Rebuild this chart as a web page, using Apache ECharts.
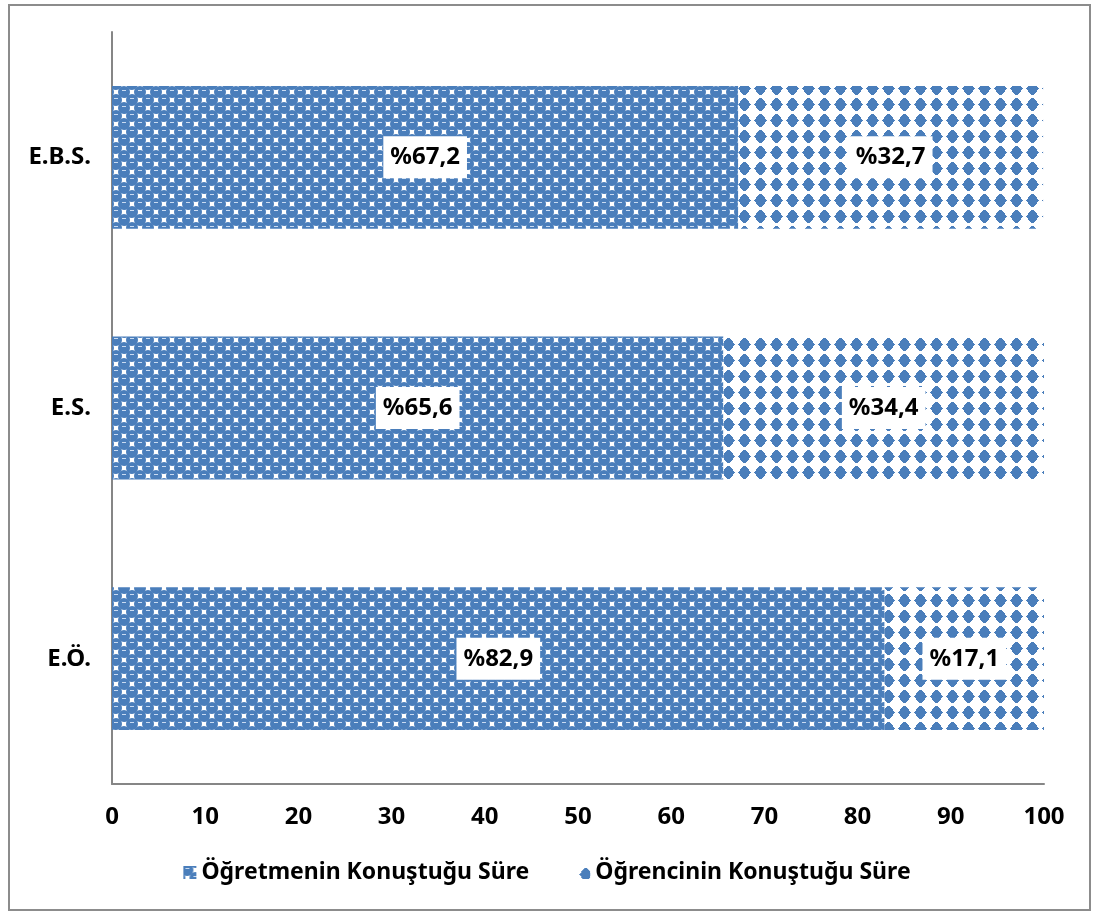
<!DOCTYPE html>
<html>
<head>
<meta charset="utf-8">
<script src="https://cdn.jsdelivr.net/npm/echarts@6/dist/echarts.min.js"></script>
<style>
html,body{margin:0;padding:0;background:#fff;}
#chart{width:1094px;height:915px;}
</style>
</head>
<body>
<div id="chart"></div>
<script>
const categories = ['E.Ö.', 'E.S.', 'E.B.S.'];
const teacherValues = [82.9, 65.6, 67.2];
const studentValues = [17.1, 34.4, 32.7];
const seriesNames = ['Öğretmenin Konuştuğu Süre', 'Öğrencinin Konuştuğu Süre'];
const xTicks = [0, 10, 20, 30, 40, 50, 60, 70, 80, 90, 100];

const BLUE = '#4A7EBB';
const FONT = '"Noto Sans", sans-serif';

function checkerPattern() {
  const c = document.createElement('canvas');
  c.width = 16; c.height = 16;
  const g = c.getContext('2d');
  g.fillStyle = '#ffffff'; g.fillRect(0, 0, 16, 16);
  g.fillStyle = BLUE;
  const centers = [[4, 4], [12, 12], [-4, 12], [12, -4], [20, 4], [4, 20], [-4, -4], [20, 20], [-4, 20], [20, -4]];
  centers.forEach(([x, y]) => { g.beginPath(); g.arc(x, y, 6.0, 0, Math.PI * 2); g.fill(); });
  g.fillStyle = 'rgba(215,230,248,0.9)';
  g.fillRect(2, 2, 4, 1);
  g.fillRect(10, 10, 4, 1);
  return c;
}
function diamondPattern() {
  const c = document.createElement('canvas');
  c.width = 16; c.height = 16;
  const g = c.getContext('2d');
  g.fillStyle = '#ffffff'; g.fillRect(0, 0, 16, 16);
  g.fillStyle = BLUE;
  const halfW = [6, 5, 4, 4, 3, 2, 1];
  for (let dy = -6; dy <= 6; dy++) {
    const w = halfW[Math.abs(dy)];
    g.fillRect(8 - w, 8 + dy, 2 * w + 1, 1);
  }
  return c;
}

const fmt = p => '%' + p.value.toFixed(1).replace('.', ',');
const labelStyle = {
  show: true, position: 'inside', formatter: fmt,
  color: '#000', fontFamily: FONT, fontWeight: 'bold', fontSize: 24,
  backgroundColor: '#ffffff', padding: [10, 7, 8, 7]
};

const chart = echarts.init(document.getElementById('chart'), null, {renderer: 'canvas'});
chart.setOption({
  animation: false,
  backgroundColor: '#ffffff',
  graphic: [{
    type: 'rect', shape: {x: 9, y: 5, width: 1081, height: 905},
    style: {fill: 'none', stroke: '#8c8c8c', lineWidth: 2}, silent: true
  }],
  grid: {left: 112, right: 50, top: 32, bottom: 131, containLabel: false},
  legend: {
    bottom: 26, left: 'center', itemWidth: 13, itemHeight: 13, itemGap: 48,
    icon: 'rect',
    textStyle: {fontFamily: FONT, fontWeight: 'bold', fontSize: 23, color: '#000'},
    data: seriesNames
  },
  xAxis: {
    type: 'value', min: xTicks[0], max: xTicks[xTicks.length - 1], interval: 10,
    axisLine: {show: true, lineStyle: {color: '#868686', width: 2}},
    axisTick: {show: false},
    splitLine: {show: false},
    axisLabel: {margin: 21, color: '#000', fontFamily: FONT, fontWeight: 'bold', fontSize: 24}
  },
  yAxis: {
    type: 'category', data: categories,
    axisLine: {show: true, lineStyle: {color: '#868686', width: 2}},
    axisTick: {show: false},
    axisLabel: {margin: 21, color: '#000', fontFamily: FONT, fontWeight: 'bold', fontSize: 24}
  },
  series: [
    {
      name: seriesNames[0], type: 'bar', stack: 'total', data: teacherValues,
      barWidth: '57%',
      itemStyle: {color: {image: checkerPattern(), repeat: 'repeat'}},
      label: labelStyle
    },
    {
      name: seriesNames[1], type: 'bar', stack: 'total', data: studentValues,
      barWidth: '57%',
      itemStyle: {color: {image: diamondPattern(), repeat: 'repeat'}},
      label: labelStyle
    }
  ]
});
</script>
</body>
</html>
